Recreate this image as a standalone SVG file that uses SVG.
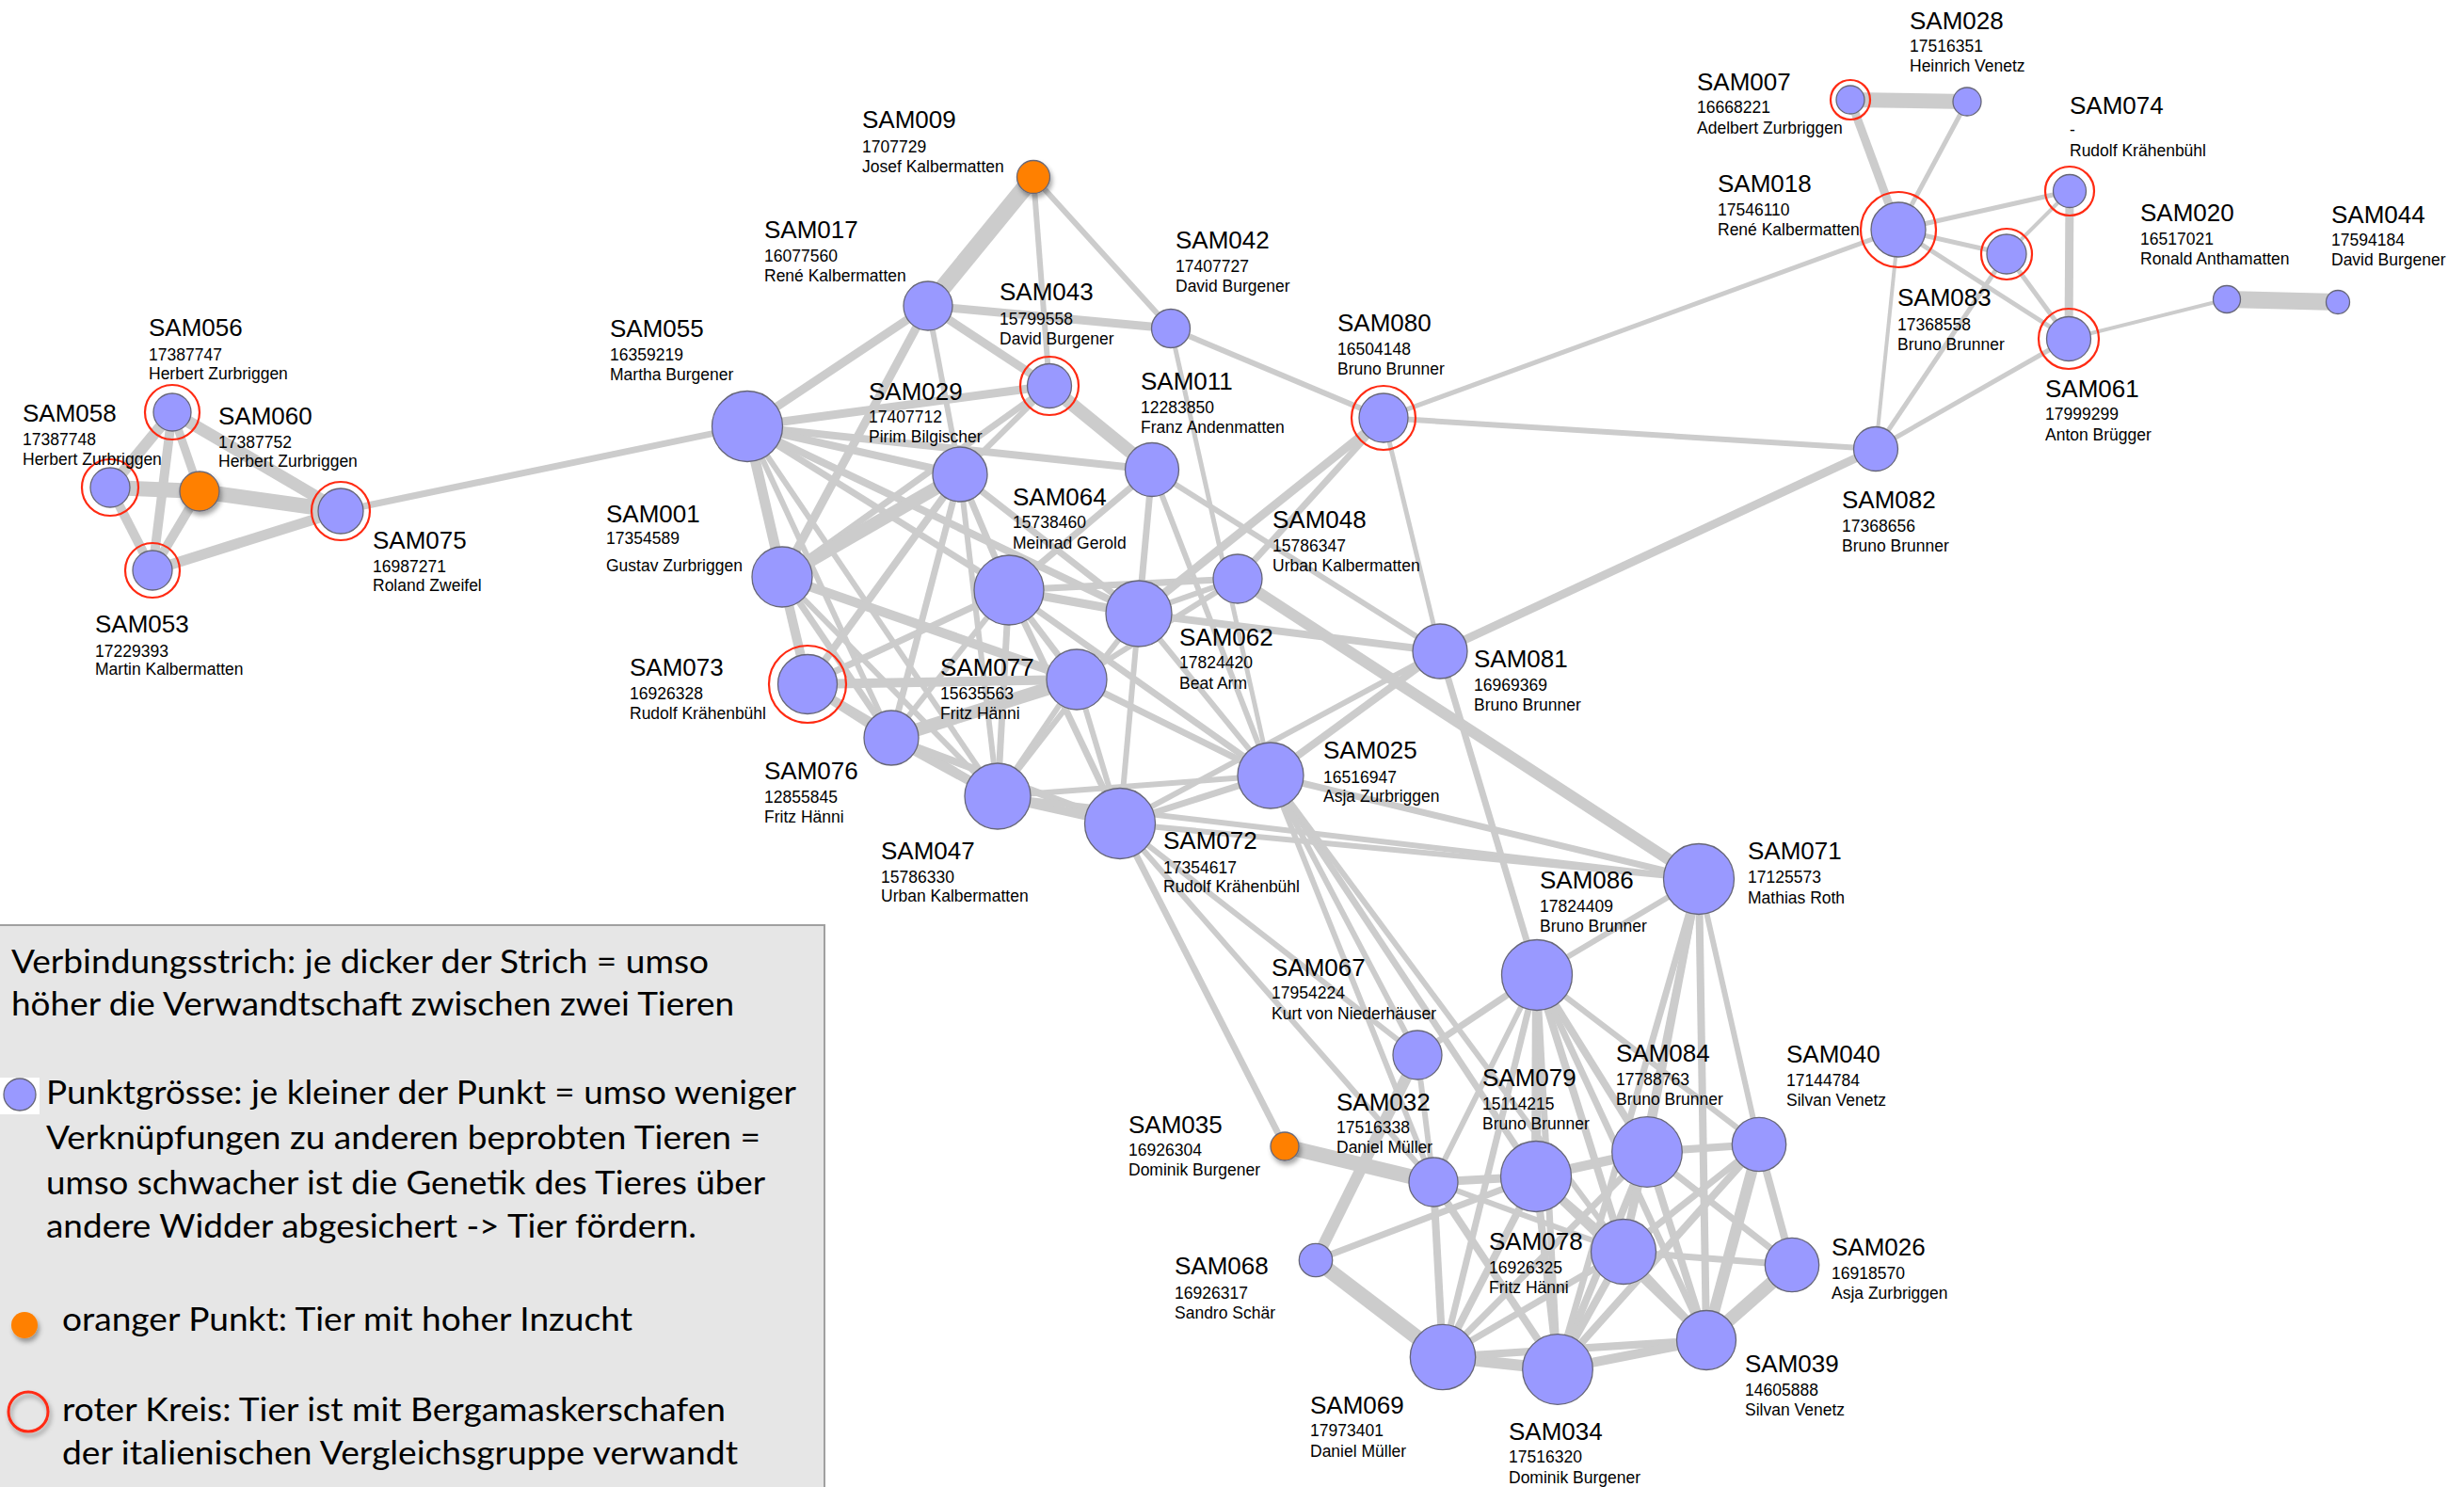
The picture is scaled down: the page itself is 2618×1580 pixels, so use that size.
<svg xmlns="http://www.w3.org/2000/svg" width="2618" height="1580" viewBox="0 0 2618 1580">
<defs>
<style>
.e{stroke:#cccccc;fill:none}
.w4{stroke-width:4}.w5{stroke-width:5}.w6{stroke-width:6}.w7{stroke-width:7}.w8{stroke-width:8}.w9{stroke-width:9}.w10{stroke-width:10}.w11{stroke-width:11}.w12{stroke-width:12}.w13{stroke-width:13}.w14{stroke-width:14}.w16{stroke-width:16}.w18{stroke-width:18}
.n{fill:#9999ff;stroke:#666677;stroke-width:1.3}
.o{fill:#ff8000;stroke:#666677;stroke-width:1.3;filter:url(#sh)}
.r{fill:none;stroke:#ff2a12;stroke-width:2.2}
.t1{font-family:'Liberation Sans',Arial,sans-serif;font-size:26px;fill:#000}
.t2{font-family:'Liberation Sans',Arial,sans-serif;font-size:17.5px;fill:#000}
.lg{font-family:Lato,'Open Sans',sans-serif;font-size:35px;fill:#000}
</style>
<filter id="sh" x="-50%" y="-50%" width="200%" height="200%"><feDropShadow dx="2" dy="4" stdDeviation="2.5" flood-color="#000" flood-opacity="0.35"/></filter>
</defs>
<rect x="0" y="0" width="2618" height="1580" fill="#ffffff"/>
<g id="connectors">
<line class="e w12" x1="183" y1="438" x2="117" y2="518"/>
<line class="e w10" x1="183" y1="438" x2="162" y2="606"/>
<line class="e w9" x1="183" y1="438" x2="212" y2="522"/>
<line class="e w13" x1="183" y1="438" x2="362" y2="543"/>
<line class="e w16" x1="117" y1="518" x2="212" y2="522"/>
<line class="e w10" x1="117" y1="518" x2="162" y2="606"/>
<line class="e w16" x1="212" y1="522" x2="362" y2="543"/>
<line class="e w11" x1="162" y1="606" x2="362" y2="543"/>
<line class="e w10" x1="162" y1="606" x2="212" y2="522"/>
<line class="e w7" x1="362" y1="543" x2="794" y2="453"/>
<line class="e w18" x1="1098" y1="188" x2="986" y2="325"/>
<line class="e w6" x1="1098" y1="188" x2="1115" y2="410"/>
<line class="e w6" x1="1098" y1="188" x2="1244" y2="349"/>
<line class="e w9" x1="986" y1="325" x2="1244" y2="349"/>
<line class="e w9" x1="986" y1="325" x2="1115" y2="410"/>
<line class="e w14" x1="1115" y1="410" x2="1224" y2="499"/>
<line class="e w9" x1="986" y1="325" x2="794" y2="453"/>
<line class="e w6" x1="986" y1="325" x2="1020" y2="504"/>
<line class="e w9" x1="986" y1="325" x2="831" y2="613"/>
<line class="e w9" x1="794" y1="453" x2="1115" y2="410"/>
<line class="e w8" x1="794" y1="453" x2="1224" y2="499"/>
<line class="e w8" x1="794" y1="453" x2="1020" y2="504"/>
<line class="e w11" x1="794" y1="453" x2="831" y2="613"/>
<line class="e w7" x1="794" y1="453" x2="1072" y2="627"/>
<line class="e w8" x1="794" y1="453" x2="1210" y2="652"/>
<line class="e w6" x1="794" y1="453" x2="947" y2="784"/>
<line class="e w6" x1="794" y1="453" x2="1060" y2="846"/>
<line class="e w6" x1="1115" y1="410" x2="1020" y2="504"/>
<line class="e w7" x1="1115" y1="410" x2="831" y2="613"/>
<line class="e w6" x1="1244" y1="349" x2="1470" y2="444"/>
<line class="e w5" x1="1244" y1="349" x2="1350" y2="824"/>
<line class="e w14" x1="831" y1="613" x2="1020" y2="504"/>
<line class="e w10" x1="831" y1="613" x2="1144" y2="722"/>
<line class="e w10" x1="831" y1="613" x2="858" y2="727"/>
<line class="e w7" x1="831" y1="613" x2="947" y2="784"/>
<line class="e w6" x1="831" y1="613" x2="1060" y2="846"/>
<line class="e w10" x1="858" y1="727" x2="1144" y2="722"/>
<line class="e w7" x1="858" y1="727" x2="1072" y2="627"/>
<line class="e w8" x1="858" y1="727" x2="1020" y2="504"/>
<line class="e w10" x1="858" y1="727" x2="947" y2="784"/>
<line class="e w8" x1="858" y1="727" x2="1060" y2="846"/>
<line class="e w14" x1="947" y1="784" x2="1144" y2="722"/>
<line class="e w10" x1="947" y1="784" x2="1060" y2="846"/>
<line class="e w8" x1="947" y1="784" x2="1190" y2="875"/>
<line class="e w7" x1="947" y1="784" x2="1020" y2="504"/>
<line class="e w6" x1="947" y1="784" x2="1072" y2="627"/>
<line class="e w7" x1="1020" y1="504" x2="1072" y2="627"/>
<line class="e w7" x1="1020" y1="504" x2="1210" y2="652"/>
<line class="e w6" x1="1020" y1="504" x2="1060" y2="846"/>
<line class="e w7" x1="1224" y1="499" x2="1072" y2="627"/>
<line class="e w7" x1="1224" y1="499" x2="1210" y2="652"/>
<line class="e w6" x1="1224" y1="499" x2="1530" y2="692"/>
<line class="e w6" x1="1224" y1="499" x2="1350" y2="824"/>
<line class="e w9" x1="1072" y1="627" x2="1210" y2="652"/>
<line class="e w7" x1="1072" y1="627" x2="1315" y2="615"/>
<line class="e w7" x1="1072" y1="627" x2="1144" y2="722"/>
<line class="e w7" x1="1072" y1="627" x2="1060" y2="846"/>
<line class="e w7" x1="1072" y1="627" x2="1190" y2="875"/>
<line class="e w7" x1="1072" y1="627" x2="1350" y2="824"/>
<line class="e w6" x1="1210" y1="652" x2="1315" y2="615"/>
<line class="e w6" x1="1210" y1="652" x2="1060" y2="846"/>
<line class="e w6" x1="1210" y1="652" x2="1190" y2="875"/>
<line class="e w6" x1="1210" y1="652" x2="1350" y2="824"/>
<line class="e w8" x1="1210" y1="652" x2="1530" y2="692"/>
<line class="e w6" x1="1144" y1="722" x2="1060" y2="846"/>
<line class="e w6" x1="1144" y1="722" x2="1190" y2="875"/>
<line class="e w7" x1="1144" y1="722" x2="1350" y2="824"/>
<line class="e w6" x1="1144" y1="722" x2="1315" y2="615"/>
<line class="e w6" x1="1060" y1="846" x2="1350" y2="824"/>
<line class="e w9" x1="1060" y1="846" x2="1190" y2="875"/>
<line class="e w6" x1="1060" y1="846" x2="1805" y2="934"/>
<line class="e w7" x1="1190" y1="875" x2="1350" y2="824"/>
<line class="e w6" x1="1190" y1="875" x2="1530" y2="692"/>
<line class="e w6" x1="1190" y1="875" x2="1805" y2="934"/>
<line class="e w12" x1="1315" y1="615" x2="1805" y2="934"/>
<line class="e w9" x1="1470" y1="444" x2="1210" y2="652"/>
<line class="e w7" x1="1470" y1="444" x2="1315" y2="615"/>
<line class="e w5" x1="1470" y1="444" x2="2017" y2="244"/>
<line class="e w6" x1="1470" y1="444" x2="1993" y2="477"/>
<line class="e w5" x1="1470" y1="444" x2="1530" y2="692"/>
<line class="e w9" x1="1530" y1="692" x2="1993" y2="477"/>
<line class="e w8" x1="1530" y1="692" x2="1350" y2="824"/>
<line class="e w7" x1="1530" y1="692" x2="1633" y2="1036"/>
<line class="e w7" x1="1350" y1="824" x2="1805" y2="934"/>
<line class="e w7" x1="1350" y1="824" x2="1632" y2="1250"/>
<line class="e w6" x1="1350" y1="824" x2="1725" y2="1330"/>
<line class="e w6" x1="1350" y1="824" x2="1523" y2="1256"/>
<line class="e w6" x1="1350" y1="824" x2="1506" y2="1121"/>
<line class="e w7" x1="1190" y1="875" x2="1365" y2="1218"/>
<line class="e w6" x1="1190" y1="875" x2="1506" y2="1121"/>
<line class="e w6" x1="1190" y1="875" x2="1523" y2="1256"/>
<line class="e w16" x1="1966" y1="106" x2="2090" y2="108"/>
<line class="e w9" x1="1966" y1="106" x2="2017" y2="244"/>
<line class="e w5" x1="2090" y1="108" x2="2017" y2="244"/>
<line class="e w5" x1="2017" y1="244" x2="2199" y2="203"/>
<line class="e w5" x1="2017" y1="244" x2="2132" y2="270"/>
<line class="e w5" x1="2017" y1="244" x2="2198" y2="360"/>
<line class="e w4" x1="2017" y1="244" x2="1993" y2="477"/>
<line class="e w4" x1="2199" y1="203" x2="2132" y2="270"/>
<line class="e w9" x1="2199" y1="203" x2="2198" y2="360"/>
<line class="e w5" x1="2132" y1="270" x2="2198" y2="360"/>
<line class="e w5" x1="2132" y1="270" x2="1993" y2="477"/>
<line class="e w5" x1="2198" y1="360" x2="1993" y2="477"/>
<line class="e w4" x1="2198" y1="360" x2="2366" y2="318"/>
<line class="e w18" x1="2366" y1="318" x2="2484" y2="321"/>
<line class="e w16" x1="1365" y1="1218" x2="1523" y2="1256"/>
<line class="e w16" x1="1398" y1="1339" x2="1533" y2="1442"/>
<line class="e w12" x1="1398" y1="1339" x2="1506" y2="1121"/>
<line class="e w7" x1="1398" y1="1339" x2="1632" y2="1250"/>
<line class="e w6" x1="1506" y1="1121" x2="1523" y2="1256"/>
<line class="e w7" x1="1506" y1="1121" x2="1633" y2="1036"/>
<line class="e w9" x1="1523" y1="1256" x2="1632" y2="1250"/>
<line class="e w8" x1="1523" y1="1256" x2="1533" y2="1442"/>
<line class="e w8" x1="1523" y1="1256" x2="1655" y2="1455"/>
<line class="e w6" x1="1523" y1="1256" x2="1725" y2="1330"/>
<line class="e w6" x1="1523" y1="1256" x2="1633" y2="1036"/>
<line class="e w10" x1="1632" y1="1250" x2="1633" y2="1036"/>
<line class="e w10" x1="1632" y1="1250" x2="1750" y2="1224"/>
<line class="e w8" x1="1632" y1="1250" x2="1725" y2="1330"/>
<line class="e w8" x1="1632" y1="1250" x2="1533" y2="1442"/>
<line class="e w8" x1="1632" y1="1250" x2="1655" y2="1455"/>
<line class="e w7" x1="1632" y1="1250" x2="1813" y2="1424"/>
<line class="e w8" x1="1633" y1="1036" x2="1750" y2="1224"/>
<line class="e w8" x1="1633" y1="1036" x2="1725" y2="1330"/>
<line class="e w7" x1="1633" y1="1036" x2="1533" y2="1442"/>
<line class="e w7" x1="1633" y1="1036" x2="1813" y2="1424"/>
<line class="e w6" x1="1633" y1="1036" x2="1869" y2="1216"/>
<line class="e w7" x1="1633" y1="1036" x2="1655" y2="1455"/>
<line class="e w8" x1="1750" y1="1224" x2="1869" y2="1216"/>
<line class="e w7" x1="1750" y1="1224" x2="1725" y2="1330"/>
<line class="e w8" x1="1750" y1="1224" x2="1655" y2="1455"/>
<line class="e w7" x1="1750" y1="1224" x2="1533" y2="1442"/>
<line class="e w8" x1="1750" y1="1224" x2="1813" y2="1424"/>
<line class="e w7" x1="1750" y1="1224" x2="1904" y2="1344"/>
<line class="e w7" x1="1725" y1="1330" x2="1533" y2="1442"/>
<line class="e w8" x1="1725" y1="1330" x2="1655" y2="1455"/>
<line class="e w8" x1="1725" y1="1330" x2="1813" y2="1424"/>
<line class="e w7" x1="1725" y1="1330" x2="1904" y2="1344"/>
<line class="e w7" x1="1725" y1="1330" x2="1869" y2="1216"/>
<line class="e w12" x1="1533" y1="1442" x2="1655" y2="1455"/>
<line class="e w8" x1="1533" y1="1442" x2="1813" y2="1424"/>
<line class="e w10" x1="1655" y1="1455" x2="1813" y2="1424"/>
<line class="e w8" x1="1655" y1="1455" x2="1869" y2="1216"/>
<line class="e w14" x1="1813" y1="1424" x2="1904" y2="1344"/>
<line class="e w12" x1="1813" y1="1424" x2="1869" y2="1216"/>
<line class="e w8" x1="1869" y1="1216" x2="1904" y2="1344"/>
<line class="e w6" x1="1805" y1="934" x2="1869" y2="1216"/>
<line class="e w7" x1="1805" y1="934" x2="1750" y2="1224"/>
<line class="e w8" x1="1805" y1="934" x2="1725" y2="1330"/>
<line class="e w7" x1="1805" y1="934" x2="1655" y2="1455"/>
<line class="e w8" x1="1805" y1="934" x2="1813" y2="1424"/>
<line class="e w6" x1="1805" y1="934" x2="1633" y2="1036"/>
</g>
<g id="SAM056"><circle class="r" cx="183" cy="438" r="29"/><circle class="n" cx="183" cy="438" r="20"/><text class="t1" x="158" y="357">SAM056</text><text class="t2" x="158" y="383">17387747</text><text class="t2" x="158" y="403">Herbert Zurbriggen</text></g>
<g id="SAM058"><circle class="r" cx="117" cy="518" r="30"/><circle class="n" cx="117" cy="518" r="21"/><text class="t1" x="24" y="448">SAM058</text><text class="t2" x="24" y="473">17387748</text><text class="t2" x="24" y="494">Herbert Zurbriggen</text></g>
<g id="SAM060"><circle class="o" cx="212" cy="522" r="21"/><text class="t1" x="232" y="451">SAM060</text><text class="t2" x="232" y="476">17387752</text><text class="t2" x="232" y="496">Herbert Zurbriggen</text></g>
<g id="SAM075"><circle class="r" cx="362" cy="543" r="31"/><circle class="n" cx="362" cy="543" r="24"/><text class="t1" x="396" y="583">SAM075</text><text class="t2" x="396" y="608">16987271</text><text class="t2" x="396" y="628">Roland Zweifel</text></g>
<g id="SAM053"><circle class="r" cx="162" cy="606" r="29"/><circle class="n" cx="162" cy="606" r="21"/><text class="t1" x="101" y="672">SAM053</text><text class="t2" x="101" y="698">17229393</text><text class="t2" x="101" y="717">Martin Kalbermatten</text></g>
<g id="SAM009"><circle class="o" cx="1098" cy="188" r="17.5"/><text class="t1" x="916" y="136">SAM009</text><text class="t2" x="916" y="162">1707729</text><text class="t2" x="916" y="183">Josef Kalbermatten</text></g>
<g id="SAM017"><circle class="n" cx="986" cy="325" r="26"/><text class="t1" x="812" y="253">SAM017</text><text class="t2" x="812" y="278">16077560</text><text class="t2" x="812" y="299">René Kalbermatten</text></g>
<g id="SAM043"><circle class="r" cx="1115" cy="410" r="31"/><circle class="n" cx="1115" cy="410" r="23.5"/><text class="t1" x="1062" y="319">SAM043</text><text class="t2" x="1062" y="345">15799558</text><text class="t2" x="1062" y="366">David Burgener</text></g>
<g id="SAM042"><circle class="n" cx="1244" cy="349" r="20.5"/><text class="t1" x="1249" y="264">SAM042</text><text class="t2" x="1249" y="289">17407727</text><text class="t2" x="1249" y="310">David Burgener</text></g>
<g id="SAM055"><circle class="n" cx="794" cy="453" r="37.5"/><text class="t1" x="648" y="358">SAM055</text><text class="t2" x="648" y="383">16359219</text><text class="t2" x="648" y="404">Martha Burgener</text></g>
<g id="SAM029"><circle class="n" cx="1020" cy="504" r="29"/><text class="t1" x="923" y="425">SAM029</text><text class="t2" x="923" y="449">17407712</text><text class="t2" x="923" y="470">Pirim Bilgischer</text></g>
<g id="SAM011"><circle class="n" cx="1224" cy="499" r="28.5"/><text class="t1" x="1212" y="414">SAM011</text><text class="t2" x="1212" y="439">12283850</text><text class="t2" x="1212" y="460">Franz Andenmatten</text></g>
<g id="SAM080"><circle class="r" cx="1470" cy="444" r="34"/><circle class="n" cx="1470" cy="444" r="26"/><text class="t1" x="1421" y="352">SAM080</text><text class="t2" x="1421" y="377">16504148</text><text class="t2" x="1421" y="398">Bruno Brunner</text></g>
<g id="SAM007"><circle class="r" cx="1966" cy="106" r="21"/><circle class="n" cx="1966" cy="106" r="15"/><text class="t1" x="1803" y="96">SAM007</text><text class="t2" x="1803" y="120">16668221</text><text class="t2" x="1803" y="142">Adelbert Zurbriggen</text></g>
<g id="SAM028"><circle class="n" cx="2090" cy="108" r="15"/><text class="t1" x="2029" y="31">SAM028</text><text class="t2" x="2029" y="55">17516351</text><text class="t2" x="2029" y="76">Heinrich Venetz</text></g>
<g id="SAM018"><circle class="r" cx="2017" cy="244" r="40"/><circle class="n" cx="2017" cy="244" r="29"/><text class="t1" x="1825" y="204">SAM018</text><text class="t2" x="1825" y="229">17546110</text><text class="t2" x="1825" y="250">René Kalbermatten</text></g>
<g id="SAM074"><circle class="r" cx="2199" cy="203" r="26"/><circle class="n" cx="2199" cy="203" r="17.5"/><text class="t1" x="2199" y="121">SAM074</text><text class="t2" x="2199" y="144">-</text><text class="t2" x="2199" y="166">Rudolf Krähenbühl</text></g>
<g id="SAM083"><circle class="r" cx="2132" cy="270" r="27"/><circle class="n" cx="2132" cy="270" r="21"/><text class="t1" x="2016" y="325">SAM083</text><text class="t2" x="2016" y="351">17368558</text><text class="t2" x="2016" y="372">Bruno Brunner</text></g>
<g id="SAM061"><circle class="r" cx="2198" cy="360" r="32"/><circle class="n" cx="2198" cy="360" r="23.5"/><text class="t1" x="2173" y="422">SAM061</text><text class="t2" x="2173" y="446">17999299</text><text class="t2" x="2173" y="468">Anton Brügger</text></g>
<g id="SAM020"><circle class="n" cx="2366" cy="318" r="14.5"/><text class="t1" x="2274" y="235">SAM020</text><text class="t2" x="2274" y="260">16517021</text><text class="t2" x="2274" y="281">Ronald Anthamatten</text></g>
<g id="SAM044"><circle class="n" cx="2484" cy="321" r="12.5"/><text class="t1" x="2477" y="237">SAM044</text><text class="t2" x="2477" y="261">17594184</text><text class="t2" x="2477" y="282">David Burgener</text></g>
<g id="SAM082"><circle class="n" cx="1993" cy="477" r="23.5"/><text class="t1" x="1957" y="540">SAM082</text><text class="t2" x="1957" y="565">17368656</text><text class="t2" x="1957" y="586">Bruno Brunner</text></g>
<g id="SAM001"><circle class="n" cx="831" cy="613" r="32"/><text class="t1" x="644" y="555">SAM001</text><text class="t2" x="644" y="578">17354589</text><text class="t2" x="644" y="607">Gustav Zurbriggen</text></g>
<g id="SAM064"><circle class="n" cx="1072" cy="627" r="37"/><text class="t1" x="1076" y="537">SAM064</text><text class="t2" x="1076" y="561">15738460</text><text class="t2" x="1076" y="583">Meinrad Gerold</text></g>
<g id="SAM062"><circle class="n" cx="1210" cy="652" r="35"/><text class="t1" x="1253" y="686">SAM062</text><text class="t2" x="1253" y="710">17824420</text><text class="t2" x="1253" y="732">Beat Arm</text></g>
<g id="SAM048"><circle class="n" cx="1315" cy="615" r="26"/><text class="t1" x="1352" y="561">SAM048</text><text class="t2" x="1352" y="586">15786347</text><text class="t2" x="1352" y="607">Urban Kalbermatten</text></g>
<g id="SAM073"><circle class="r" cx="858" cy="727" r="41"/><circle class="n" cx="858" cy="727" r="31.5"/><text class="t1" x="669" y="718">SAM073</text><text class="t2" x="669" y="743">16926328</text><text class="t2" x="669" y="764">Rudolf Krähenbühl</text></g>
<g id="SAM077"><circle class="n" cx="1144" cy="722" r="32"/><text class="t1" x="999" y="718">SAM077</text><text class="t2" x="999" y="743">15635563</text><text class="t2" x="999" y="764">Fritz Hänni</text></g>
<g id="SAM076"><circle class="n" cx="947" cy="784" r="29"/><text class="t1" x="812" y="828">SAM076</text><text class="t2" x="812" y="853">12855845</text><text class="t2" x="812" y="874">Fritz Hänni</text></g>
<g id="SAM047"><circle class="n" cx="1060" cy="846" r="35"/><text class="t1" x="936" y="913">SAM047</text><text class="t2" x="936" y="938">15786330</text><text class="t2" x="936" y="958">Urban Kalbermatten</text></g>
<g id="SAM072"><circle class="n" cx="1190" cy="875" r="37.5"/><text class="t1" x="1236" y="902">SAM072</text><text class="t2" x="1236" y="928">17354617</text><text class="t2" x="1236" y="948">Rudolf Krähenbühl</text></g>
<g id="SAM081"><circle class="n" cx="1530" cy="692" r="29"/><text class="t1" x="1566" y="709">SAM081</text><text class="t2" x="1566" y="734">16969369</text><text class="t2" x="1566" y="755">Bruno Brunner</text></g>
<g id="SAM025"><circle class="n" cx="1350" cy="824" r="35"/><text class="t1" x="1406" y="806">SAM025</text><text class="t2" x="1406" y="832">16516947</text><text class="t2" x="1406" y="852">Asja Zurbriggen</text></g>
<g id="SAM071"><circle class="n" cx="1805" cy="934" r="37.5"/><text class="t1" x="1857" y="913">SAM071</text><text class="t2" x="1857" y="938">17125573</text><text class="t2" x="1857" y="960">Mathias Roth</text></g>
<g id="SAM086"><circle class="n" cx="1633" cy="1036" r="37.5"/><text class="t1" x="1636" y="944">SAM086</text><text class="t2" x="1636" y="969">17824409</text><text class="t2" x="1636" y="990">Bruno Brunner</text></g>
<g id="SAM067"><circle class="n" cx="1506" cy="1121" r="26"/><text class="t1" x="1351" y="1037">SAM067</text><text class="t2" x="1351" y="1061">17954224</text><text class="t2" x="1351" y="1083">Kurt von Niederhäuser</text></g>
<g id="SAM032"><circle class="n" cx="1523" cy="1256" r="26"/><text class="t1" x="1420" y="1180">SAM032</text><text class="t2" x="1420" y="1204">17516338</text><text class="t2" x="1420" y="1225">Daniel Müller</text></g>
<g id="SAM035"><circle class="o" cx="1365" cy="1218" r="15"/><text class="t1" x="1199" y="1204">SAM035</text><text class="t2" x="1199" y="1228">16926304</text><text class="t2" x="1199" y="1249">Dominik Burgener</text></g>
<g id="SAM079"><circle class="n" cx="1632" cy="1250" r="37.5"/><text class="t1" x="1575" y="1154">SAM079</text><text class="t2" x="1575" y="1179">15114215</text><text class="t2" x="1575" y="1200">Bruno Brunner</text></g>
<g id="SAM084"><circle class="n" cx="1750" cy="1224" r="37.3"/><text class="t1" x="1717" y="1128">SAM084</text><text class="t2" x="1717" y="1153">17788763</text><text class="t2" x="1717" y="1174">Bruno Brunner</text></g>
<g id="SAM040"><circle class="n" cx="1869" cy="1216" r="28.7"/><text class="t1" x="1898" y="1129">SAM040</text><text class="t2" x="1898" y="1154">17144784</text><text class="t2" x="1898" y="1175">Silvan Venetz</text></g>
<g id="SAM068"><circle class="n" cx="1398" cy="1339" r="17.7"/><text class="t1" x="1248" y="1354">SAM068</text><text class="t2" x="1248" y="1380">16926317</text><text class="t2" x="1248" y="1401">Sandro Schär</text></g>
<g id="SAM078"><circle class="n" cx="1725" cy="1330" r="34.5"/><text class="t1" x="1582" y="1328">SAM078</text><text class="t2" x="1582" y="1353">16926325</text><text class="t2" x="1582" y="1374">Fritz Hänni</text></g>
<g id="SAM026"><circle class="n" cx="1904" cy="1344" r="28.7"/><text class="t1" x="1946" y="1334">SAM026</text><text class="t2" x="1946" y="1359">16918570</text><text class="t2" x="1946" y="1380">Asja Zurbriggen</text></g>
<g id="SAM069"><circle class="n" cx="1533" cy="1442" r="34.7"/><text class="t1" x="1392" y="1502">SAM069</text><text class="t2" x="1392" y="1526">17973401</text><text class="t2" x="1392" y="1548">Daniel Müller</text></g>
<g id="SAM034"><circle class="n" cx="1655" cy="1455" r="37.3"/><text class="t1" x="1603" y="1530">SAM034</text><text class="t2" x="1603" y="1554">17516320</text><text class="t2" x="1603" y="1576">Dominik Burgener</text></g>
<g id="SAM039"><circle class="n" cx="1813" cy="1424" r="31.5"/><text class="t1" x="1854" y="1458">SAM039</text><text class="t2" x="1854" y="1483">14605888</text><text class="t2" x="1854" y="1504">Silvan Venetz</text></g>
<g id="legend">
<rect x="-2" y="983" width="878" height="600" fill="#e6e6e6" stroke="#a0a0a0" stroke-width="2"/>
<text class="lg" x="12" y="1034" textLength="741" lengthAdjust="spacingAndGlyphs">Verbindungsstrich: je dicker der Strich = umso</text>
<text class="lg" x="12" y="1079" textLength="768" lengthAdjust="spacingAndGlyphs">höher die Verwandtschaft zwischen zwei Tieren</text>
<rect x="0" y="1145" width="42" height="39" fill="#ffffff"/>
<circle class="n" cx="21" cy="1163" r="17"/>
<text class="lg" x="49" y="1173" textLength="797" lengthAdjust="spacingAndGlyphs">Punktgrösse: je kleiner der Punkt = umso weniger</text>
<text class="lg" x="49" y="1221" textLength="759" lengthAdjust="spacingAndGlyphs">Verknüpfungen zu anderen beprobten Tieren =</text>
<text class="lg" x="49" y="1269" textLength="764" lengthAdjust="spacingAndGlyphs">umso schwacher ist die Genetik des Tieres über</text>
<text class="lg" x="49" y="1315" textLength="691" lengthAdjust="spacingAndGlyphs">andere Widder abgesichert -&gt; Tier fördern.</text>
<circle cx="26" cy="1408" r="14" fill="#ff8000" filter="url(#sh)"/>
<text class="lg" x="66" y="1414" textLength="606" lengthAdjust="spacingAndGlyphs">oranger Punkt: Tier mit hoher Inzucht</text>
<circle cx="30" cy="1500" r="21" fill="none" stroke="#ff2a12" stroke-width="3" filter="url(#sh)"/>
<text class="lg" x="66" y="1510" textLength="705" lengthAdjust="spacingAndGlyphs">roter Kreis: Tier ist mit Bergamaskerschafen</text>
<text class="lg" x="66" y="1556" textLength="718" lengthAdjust="spacingAndGlyphs">der italienischen Vergleichsgruppe verwandt</text>
</g>
</svg>
